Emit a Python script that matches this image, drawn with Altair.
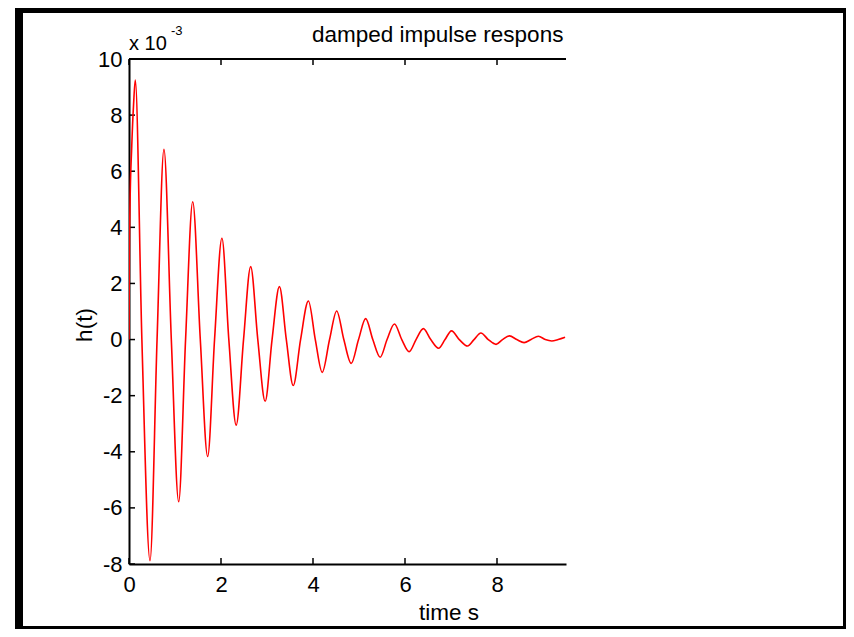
import altair as alt
import pandas as pd

# time (s) and h(t) in units of 1e-3 (extremes and zero crossings)
t_values = [0, 0.008, 0.02, 0.06, 0.1, 0.137,
            0.28, 0.457, 0.61, 0.76, 0.92, 1.08, 1.23, 1.385, 1.55, 1.71,
            1.86, 2.02, 2.17, 2.33, 2.49, 2.645, 2.80, 2.96, 3.11, 3.27,
            3.42, 3.57, 3.73, 3.90, 4.05, 4.20, 4.36, 4.515, 4.67, 4.83,
            4.99, 5.145, 5.30, 5.46, 5.61, 5.77, 5.93, 6.09, 6.24, 6.40,
            6.56, 6.73, 6.87, 7.01, 7.18, 7.36, 7.50, 7.65, 7.81, 7.98,
            8.12, 8.27, 8.43, 8.59, 8.74, 8.90, 9.05, 9.19, 9.33, 9.48]
h_values = [0, 3.0, 4.6, 6.9, 8.4, 9.25,
            0, -7.88, 0, 6.78, 0, -5.78, 0, 4.91, 0, -4.17,
            0, 3.61, 0, -3.05, 0, 2.60, 0, -2.20, 0, 1.885,
            0, -1.64, 0, 1.375, 0, -1.17, 0, 1.02, 0, -0.85,
            0, 0.745, 0, -0.63, 0, 0.556, 0, -0.43, 0, 0.39,
            0, -0.31, 0, 0.31, 0, -0.23, 0, 0.235, 0, -0.17,
            0, 0.13, 0, -0.11, 0, 0.12, 0, -0.05, 0, 0.08]

x_ticks = [0, 2, 4, 6, 8]
y_ticks = [-8, -6, -4, -2, 0, 2, 4, 6, 8, 10]

W, H = 437, 505
FONT = "Liberation Sans"

df = pd.DataFrame({"t": t_values, "h": h_values})
xt = pd.DataFrame({"v": x_ticks})
yt = pd.DataFrame({"v": y_ticks})
one = pd.DataFrame({"a": [0]})

xscale = alt.Scale(domain=[0, 9.5], nice=False, zero=False)
yscale = alt.Scale(domain=[-8, 10], nice=False, zero=False)

line = alt.Chart(df).mark_line(color="#ff0000", strokeWidth=1.6, interpolate="monotone", clip=True).encode(
    x=alt.X("t:Q", scale=xscale,
            axis=alt.Axis(values=x_ticks, title=None, grid=False, ticks=False, tickSize=0,
                          domainColor="black", domainWidth=2, labelFont=FONT, labelFontSize=22,
                          labelColor="black", labelPadding=10, labelFlush=False, labelOverlap=False,
                          labelExpr="datum.value + ''")),
    y=alt.Y("h:Q", scale=yscale,
            axis=alt.Axis(values=y_ticks, title=None, grid=False, ticks=False, tickSize=0,
                          domainColor="black", domainWidth=2, labelFont=FONT, labelFontSize=22,
                          labelColor="black", labelPadding=7, labelOverlap=False,
                          labelExpr="datum.value + ''")),
)

top_line = alt.Chart(one).mark_rule(color="black", strokeWidth=2).encode(
    x=alt.value(0), x2=alt.value(W), y=alt.value(0))

left_ticks = alt.Chart(yt).mark_rule(color="black", strokeWidth=1.5).encode(
    y=alt.Y("v:Q", scale=yscale), x=alt.value(0), x2=alt.value(6))
bottom_ticks = alt.Chart(xt).mark_rule(color="black", strokeWidth=1.5).encode(
    x=alt.X("v:Q", scale=xscale), y=alt.value(H), y2=alt.value(H - 6))
top_ticks = alt.Chart(xt).mark_rule(color="black", strokeWidth=1.5).encode(
    x=alt.X("v:Q", scale=xscale), y=alt.value(0), y2=alt.value(6))

def txt(s, x, y, size, **kw):
    return alt.Chart(one).mark_text(text=s, font=FONT, fontSize=size, color="black", **kw).encode(
        x=alt.value(x), y=alt.value(y))

title = txt("damped impulse respons", 183, -17, 22.5, align="left", baseline="alphabetic")
exp_base = txt("x 10", 0, -9, 20, align="left", baseline="alphabetic")
exp_pow = txt("-3", 42, -24, 13, align="left", baseline="alphabetic")
xlabel = txt("time s", 320, 561, 22.5, align="center", baseline="alphabetic")
ylabel = txt("h(t)", -44, 266, 22.5, align="center", baseline="middle", angle=270)

def rect(x1, x2, y1, y2):
    return alt.Chart(one).mark_rect(color="black").encode(
        x=alt.value(x1), x2=alt.value(x2), y=alt.value(y1), y2=alt.value(y2))

frame = [
    rect(-114, 717, -51, -46),   # top thick bar
    rect(-114, -106, -51, 570),  # left thick bar
    rect(714, 717, -51, 570),    # right thin line
    rect(-114, 717, 567, 570),   # bottom thin line
]

chart = alt.layer(
    *frame, top_line, left_ticks, bottom_ticks, top_ticks, line,
    title, exp_base, exp_pow, xlabel, ylabel
).properties(
    width=W, height=H,
    padding={"left": 121, "top": 51, "right": 280, "bottom": 65},
    autosize=alt.AutoSizeParams(type="none"),
    background="white",
).configure_view(stroke=None)

chart.save("out.html", embed_options={"renderer": "svg", "actions": False})
